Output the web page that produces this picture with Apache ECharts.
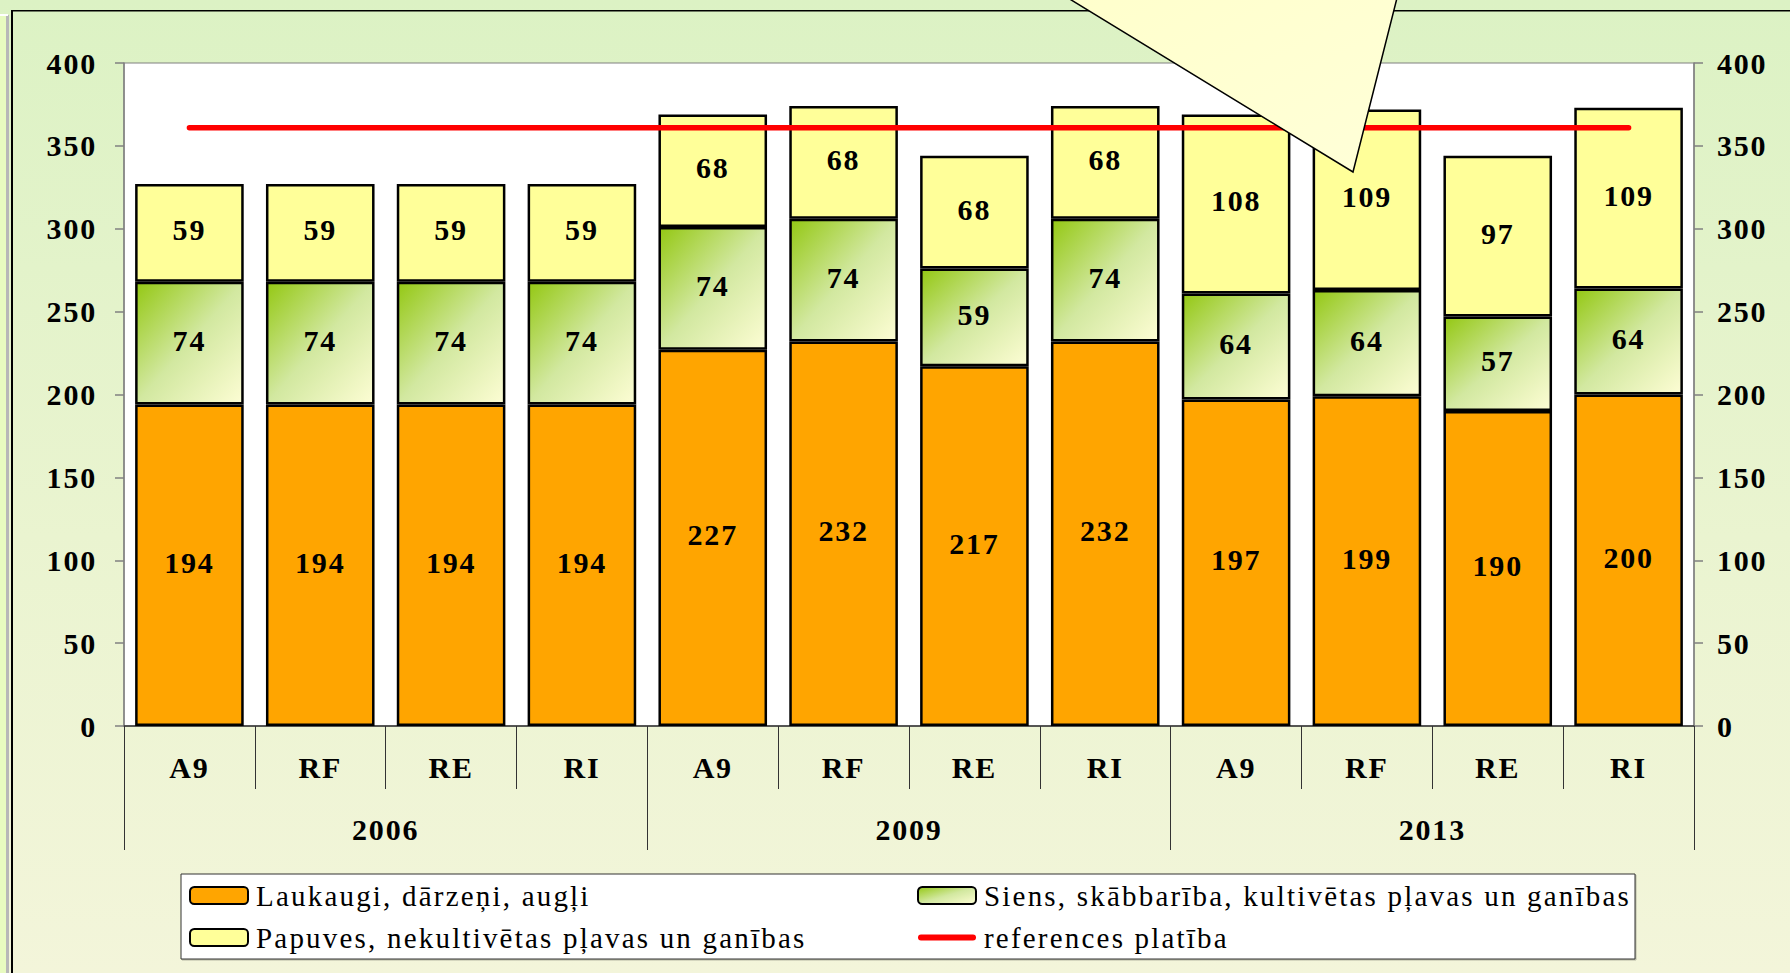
<!DOCTYPE html>
<html>
<head>
<meta charset="utf-8">
<script src="https://cdn.jsdelivr.net/npm/echarts@6/dist/echarts.min.js"></script>
<style>
    html, body {margin: 0; padding: 0;}
    body {background: linear-gradient(to bottom, #dcf2c4 0%, #eaf4d0 55%, #f3f5da 100%);}
    #chart {width: 1790px; height: 973px;}
    /* burti oriģinālā ir izvērsti platāk */
    #chart text {letter-spacing: 2.2px;}
    #chart text[style*="bold"] {letter-spacing: 1.8px;}
</style>
</head>
<body>
<div id="chart"></div>
<script>
// kategorijas
var regions = ['A9', 'RF', 'RE', 'RI', 'A9', 'RF', 'RE', 'RI', 'A9', 'RF', 'RE', 'RI'];
var years = ['2006', '2009', '2013'];
// platības
var laukaugi = [194, 194, 194, 194, 227, 232, 217, 232, 197, 199, 190, 200];
var siens = [74, 74, 74, 74, 74, 74, 59, 74, 64, 64, 57, 64];
var papuves = [59, 59, 59, 59, 68, 68, 68, 68, 108, 109, 97, 109];
var refPlatiba = [361, 361, 361, 361, 361, 361, 361, 361, 361, 361, 361, 361];
var names = ['Laukaugi, dārzeņi, augļi', 'Siens, skābbarība, kultivētas pļavas un ganības',
    'Papuves, nekultivētas pļavas un ganības', 'references platība'];

var serif = '"Liberation Serif", "Times New Roman", serif';
var numFont = {fontFamily: serif, fontWeight: 'bold', fontSize: 30, color: '#000'};
var barLabel = {show: true, position: 'inside', offset: [0, -3], ...numFont};
var barBorder = {borderColor: '#000', borderWidth: 2.5};
var legendText = {fontFamily: serif, fontSize: 29, color: '#000', padding: [0, 0, 0, 3]};
var lineIcon = 'path://M3,0 L55,0 A3,3 0 0 1 55,6 L3,6 A3,3 0 0 1 3,0 Z';

var chart = echarts.init(document.getElementById('chart'), null, {renderer: 'svg'});
var yAxisBase = {
    type: 'value', min: 0, max: 400, interval: 50,
    axisLine: {show: true, lineStyle: {color: '#808080', width: 1.5}},
    axisTick: {show: true, length: 9, lineStyle: {color: '#808080', width: 1.5}},
    splitLine: {show: false}
};
chart.setOption({
    animation: false,
    grid: {left: 124, right: 96, top: 63, bottom: 247, show: true,
        backgroundColor: '#fff', borderColor: '#808080', borderWidth: 1},
    legend: [{
        data: [names[0], names[2]], orient: 'vertical', left: 189, top: 881, padding: 0,
        itemWidth: 58, itemHeight: 17, itemGap: 13, textStyle: legendText
    }, {
        data: [names[1], {name: names[3], icon: lineIcon, itemStyle: {color: '#ff0000', borderWidth: 0}}],
        orient: 'vertical', left: 917, top: 881, padding: 0,
        itemWidth: 58, itemHeight: 17, itemGap: 13, textStyle: legendText
    }],
    xAxis: [{
        type: 'category', data: regions, position: 'bottom',
        axisLine: {lineStyle: {color: '#333', width: 1.5}},
        axisTick: {show: true, interval: 0, length: 63, lineStyle: {color: '#333', width: 1}},
        axisLabel: {interval: 0, margin: 26, ...numFont}
    }, {
        type: 'category', data: years, position: 'bottom', offset: 0,
        axisLine: {show: false},
        axisTick: {show: true, interval: 0, length: 124, lineStyle: {color: '#333', width: 1}},
        axisLabel: {interval: 0, margin: 88, ...numFont}
    }],
    yAxis: [
        {...yAxisBase, position: 'left', axisLabel: {margin: 27, padding: [0, 0, 6, 0], ...numFont}},
        {...yAxisBase, position: 'right', axisLabel: {margin: 23, padding: [0, 0, 6, 0], ...numFont}}
    ],
    series: [{
        name: names[0], type: 'bar', stack: 'a', barCategoryGap: '17%',
        itemStyle: {color: '#ffa500', ...barBorder},
        label: barLabel, data: laukaugi
    }, {
        name: names[1], type: 'bar', stack: 'a',
        itemStyle: {
            color: new echarts.graphic.LinearGradient(0, 0, 1, 1, [
                {offset: 0, color: '#94c814'}, {offset: 0.5, color: '#d2e8a0'}, {offset: 1, color: '#fdfdd4'}]),
            ...barBorder
        },
        label: barLabel, data: siens
    }, {
        name: names[2], type: 'bar', stack: 'a',
        itemStyle: {color: '#ffff99', ...barBorder},
        label: barLabel, data: papuves
    }, {
        name: names[3], type: 'line', symbol: 'none', z: 5,
        lineStyle: {color: '#ff0000', width: 5.5, cap: 'round'},
        itemStyle: {color: '#ff0000'},
        data: refPlatiba
    }],
    graphic: [
        // kreisā mala
        {type: 'rect', shape: {x: 0, y: 15, width: 6, height: 958}, style: {fill: '#e8fbc0'}},
        {type: 'rect', shape: {x: 6, y: 15, width: 3, height: 958}, style: {fill: '#b8b8b8'}},
        {type: 'rect', shape: {x: 0, y: 14, width: 8, height: 2}, style: {fill: '#fff'}},
        {type: 'rect', shape: {x: 11, y: 10, width: 2, height: 963}, style: {fill: '#000'}},
        {type: 'rect', shape: {x: 11, y: 10, width: 1779, height: 1.5}, style: {fill: '#000'}},
        // leģendas rāmis
        {type: 'rect', shape: {x: 181, y: 874, width: 1454, height: 85},
            style: {fill: '#fff', stroke: '#333', lineWidth: 1, shadowColor: 'rgba(0,0,0,0.25)', shadowOffsetX: 1, shadowOffsetY: 1}},
        // izsaukuma bulta
        {type: 'polygon', z: 100, shape: {points: [[1068, -2], [1353, 172], [1397, -2]]},
            style: {
                fill: new echarts.graphic.LinearGradient(0, 0, 1, 1, [
                    {offset: 0, color: '#ffffcc'}, {offset: 1, color: '#ffffd8'}]),
                stroke: '#000', lineWidth: 1.5
            }}
    ]
});
</script>
</body>
</html>
